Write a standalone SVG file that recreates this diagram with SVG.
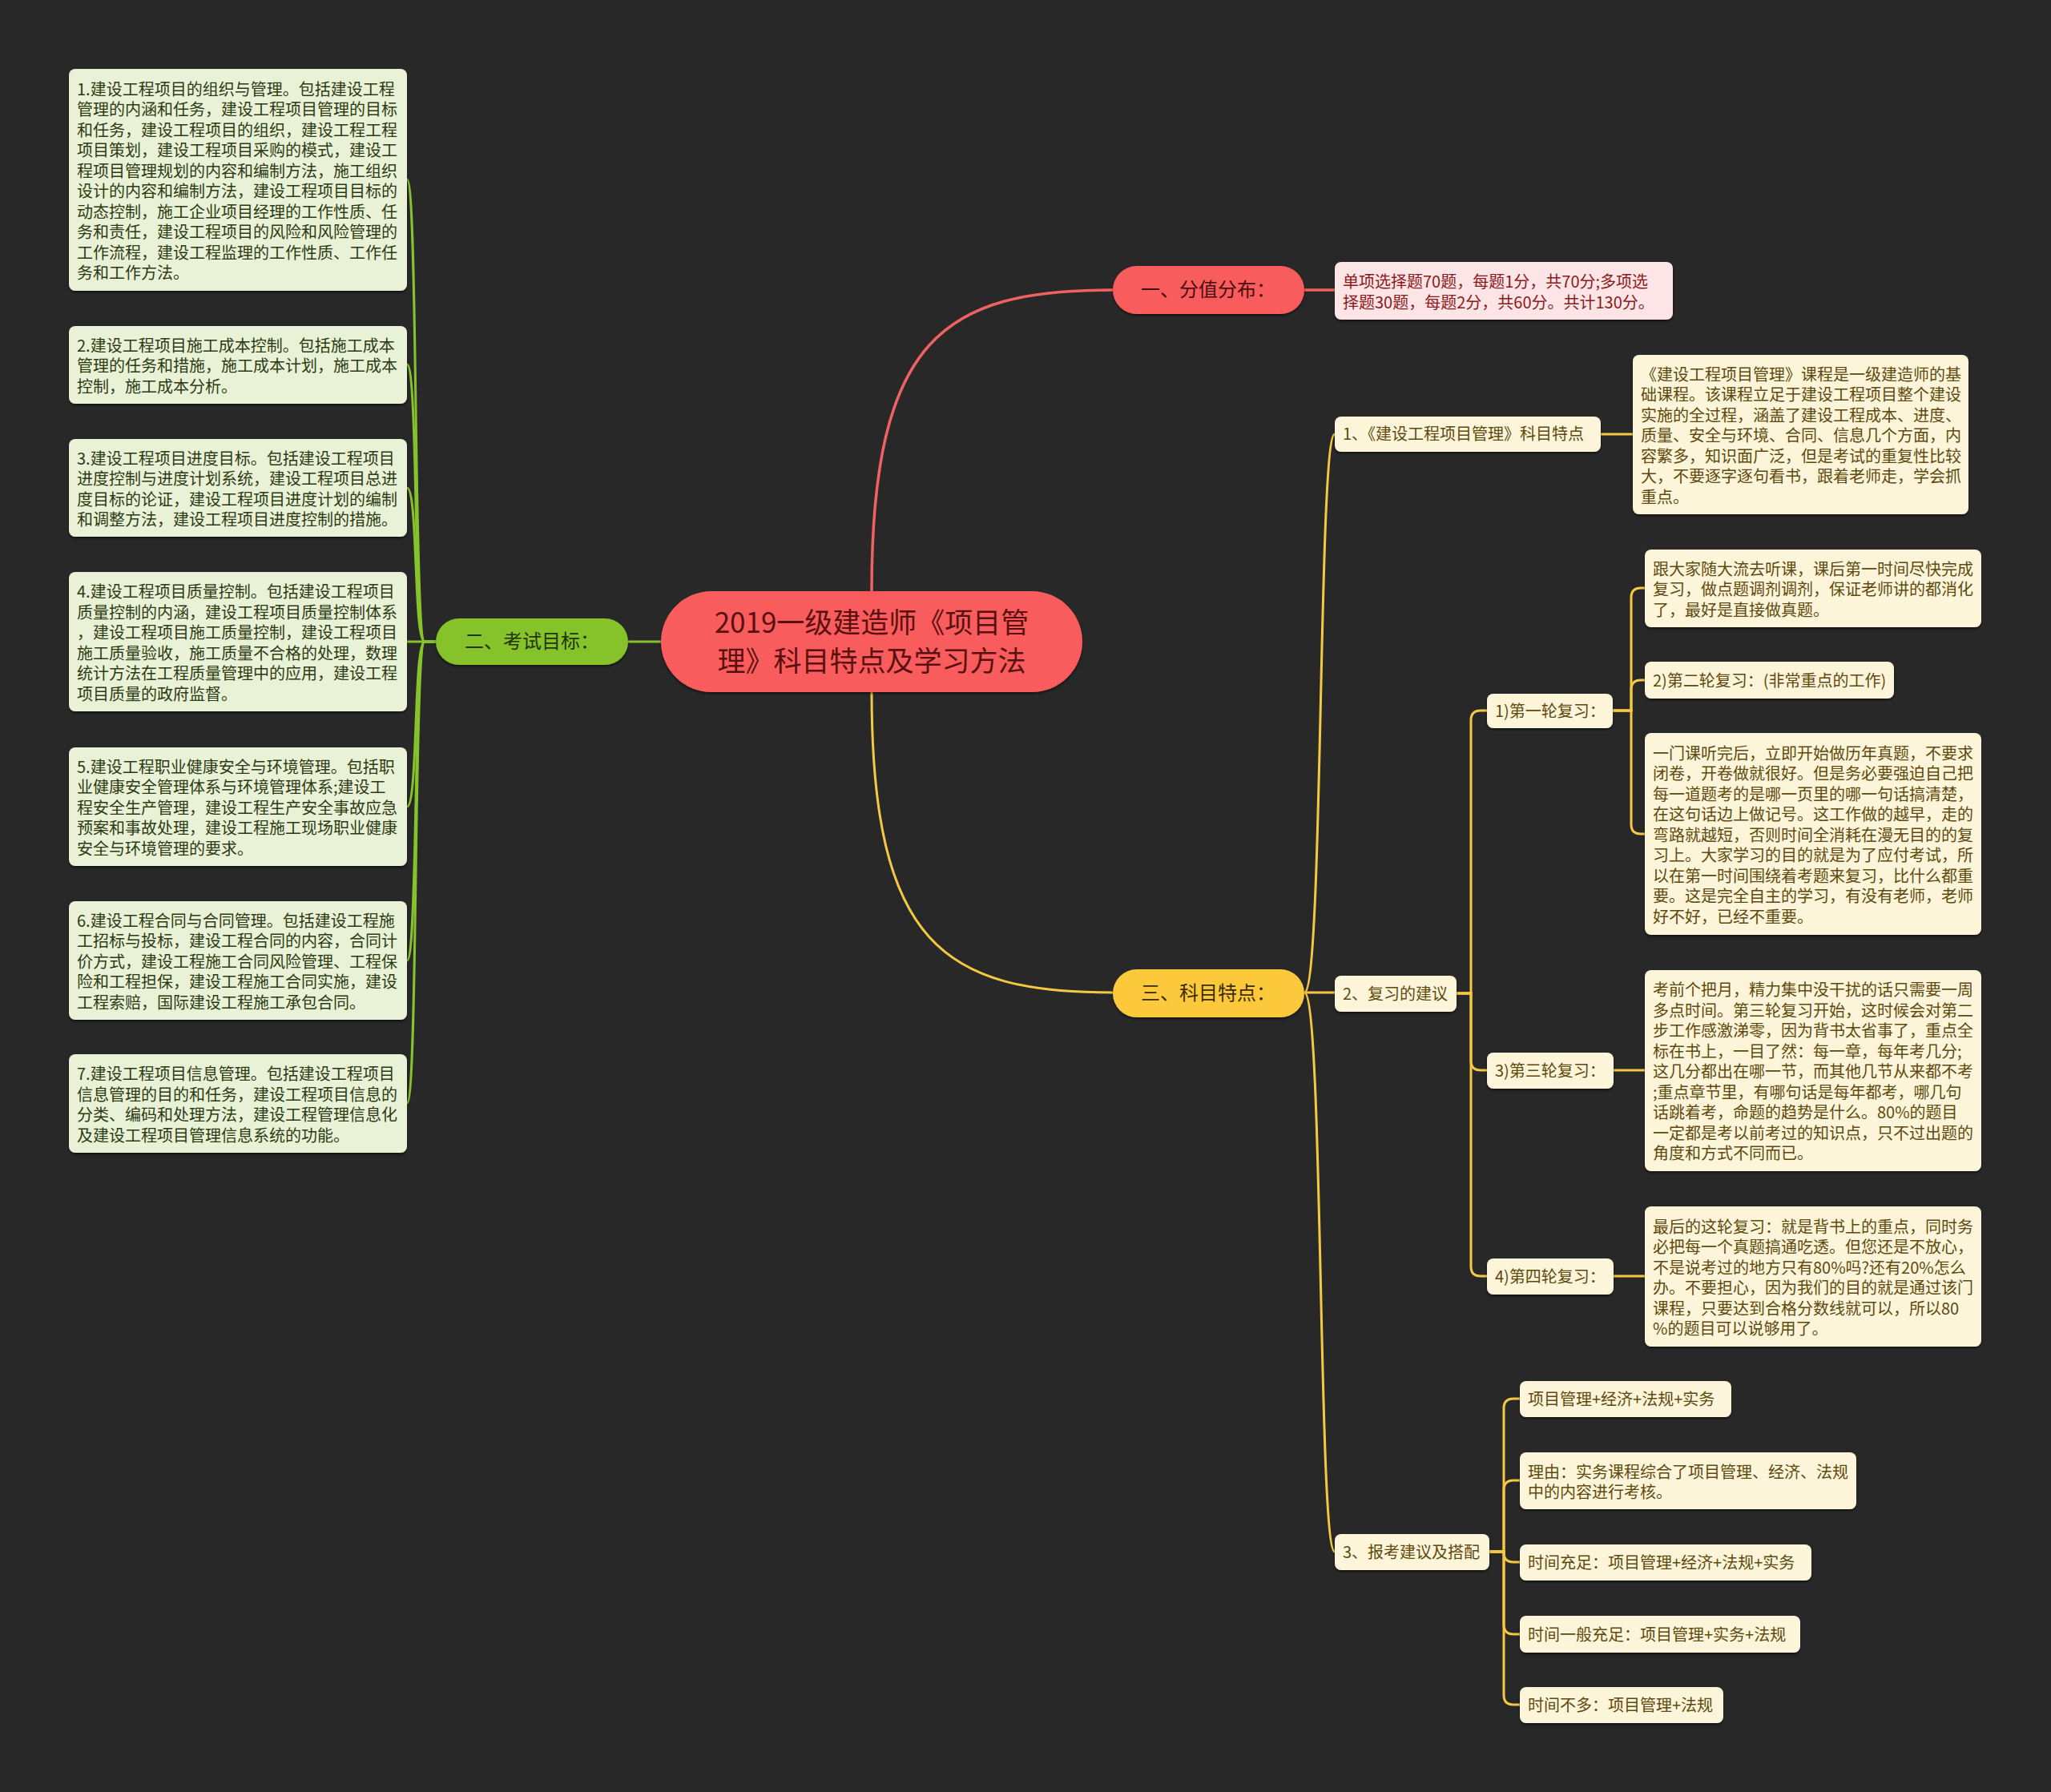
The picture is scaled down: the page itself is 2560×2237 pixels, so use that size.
<svg xmlns="http://www.w3.org/2000/svg" width="2560" height="2237" viewBox="0 0 2560 2237">
<defs>
<filter id="sh" x="-5%" y="-10%" width="110%" height="130%">
<feDropShadow dx="0" dy="2" stdDeviation="1.5" flood-color="#000" flood-opacity="0.55"/>
</filter>
<style>
text{font-family:"Noto Sans CJK SC","Noto Sans",sans-serif;}
.t20{font-size:20px;}
.gbox{fill:#e9f2d7;filter:url(#sh);}
.gtxt{fill:#2d3b12;}
.cbox{fill:#fdf5d9;filter:url(#sh);}
.ctxt{fill:#5e4a0e;}
.pbox{fill:#fde4e6;filter:url(#sh);}
.ptxt{fill:#8a1a1a;}
.red{fill:none;stroke:#f06262;stroke-width:3.5;}
.yel{fill:none;stroke:#f5c842;stroke-width:3;}
.grn{fill:none;stroke:#86c22c;stroke-width:3;}
</style>
</defs>
<rect width="2560" height="2237" fill="#282828"/>

<g id="connectors">
<path class="red" d="M1088,738 C1088,420 1180,362 1389,362"/>
<path class="red" d="M1628,362 H1666"/>
<path class="yel" d="M1088,864 C1088,1180 1180,1239 1389,1239"/>
<path class="grn" d="M825,801 H784"/>
<path class="grn" d="M544,801 L530,801 C516,801 522,224 508,224"/>
<path class="grn" d="M544,801 L530,801 C516,801 522,455 508,455"/>
<path class="grn" d="M544,801 L530,801 C516,801 522,609 508,609"/>
<path class="grn" d="M544,801 L508,801"/>
<path class="grn" d="M544,801 L530,801 C516,801 522,1007 508,1007"/>
<path class="grn" d="M544,801 L530,801 C516,801 522,1199 508,1199"/>
<path class="grn" d="M544,801 L530,801 C516,801 522,1377 508,1377"/>
<path class="yel" d="M1628,1239 C1652,1239 1645,542 1666,542"/>
<path class="yel" d="M1628,1239 H1666"/>
<path class="yel" d="M1628,1239 C1652,1239 1645,1937 1666,1937"/>
<path class="yel" d="M1998,542 H2038"/>
<path class="yel" d="M1818,1240 H1836 V899 Q1836,887 1848,887 H1856"/>
<path class="yel" d="M1818,1240 H1836 V1324 Q1836,1336 1848,1336 H1856"/>
<path class="yel" d="M1818,1240 H1836 V1581 Q1836,1593 1848,1593 H1856"/>
<path class="yel" d="M2013,887 H2036 V746 Q2036,734 2048,734 H2053"/>
<path class="yel" d="M2013,887 H2036 V861 Q2036,849 2048,849 H2053"/>
<path class="yel" d="M2013,887 H2036 V1029 Q2036,1041 2048,1041 H2053"/>
<path class="yel" d="M2014,1336 H2053"/>
<path class="yel" d="M2014,1593 H2053"/>
<path class="yel" d="M1859,1937 H1877 V1758 Q1877,1746 1889,1746 H1897"/>
<path class="yel" d="M1859,1937 H1877 V1860 Q1877,1848 1889,1848 H1897"/>
<path class="yel" d="M1859,1937 H1877 V1938 Q1877,1950 1889,1950 H1897"/>
<path class="yel" d="M1859,1937 H1877 V2028 Q1877,2040 1889,2040 H1897"/>
<path class="yel" d="M1859,1937 H1877 V2116 Q1877,2128 1889,2128 H1897"/>
</g>

<g id="center">
<rect x="825" y="738" width="526" height="126" rx="63" fill="#f85b5b" filter="url(#sh)"/>
<text x="1088" y="790" font-size="35" fill="#5a1010" text-anchor="middle">2019一级建造师《项目管</text>
<text x="1088" y="838" font-size="35" fill="#5a1010" text-anchor="middle">理》科目特点及学习方法</text>
</g>

<g id="b1">
<rect x="1389" y="332" width="239" height="60" rx="30" fill="#f85b5b" filter="url(#sh)"/>
<text x="1508" y="370" font-size="24" fill="#4a0d0d" text-anchor="middle">一、分值分布：</text>
</g>
<g id="b1c">
<rect class="pbox" x="1666" y="327" width="422" height="72" rx="8"/>
<text class="t20 ptxt"><tspan x="1676" y="359">单项选择题70题，每题1分，共70分;多项选</tspan><tspan x="1676" y="384.5">择题30题，每题2分，共60分。共计130分。</tspan></text>
</g>

<g id="b2">
<rect x="544" y="772" width="240" height="58" rx="29" fill="#86c22c" filter="url(#sh)"/>
<text x="664" y="809" font-size="24" fill="#1f350a" text-anchor="middle">二、考试目标：</text>
</g>

<g id="b3">
<rect x="1389" y="1210" width="239" height="60" rx="30" fill="#fbc93b" filter="url(#sh)"/>
<text x="1508" y="1248" font-size="24" fill="#3d2c00" text-anchor="middle">三、科目特点：</text>
</g>

<g id="g1">
<rect class="gbox" x="86" y="86" width="422" height="277" rx="8"/>
<text class="t20 gtxt"><tspan x="96" y="118.5">1.建设工程项目的组织与管理。包括建设工程</tspan><tspan x="96" y="144">管理的内涵和任务，建设工程项目管理的目标</tspan><tspan x="96" y="169.5">和任务，建设工程项目的组织，建设工程工程</tspan><tspan x="96" y="195">项目策划，建设工程项目采购的模式，建设工</tspan><tspan x="96" y="220.5">程项目管理规划的内容和编制方法，施工组织</tspan><tspan x="96" y="246">设计的内容和编制方法，建设工程项目目标的</tspan><tspan x="96" y="271.5">动态控制，施工企业项目经理的工作性质、任</tspan><tspan x="96" y="297">务和责任，建设工程项目的风险和风险管理的</tspan><tspan x="96" y="322.5">工作流程，建设工程监理的工作性质、工作任</tspan><tspan x="96" y="348">务和工作方法。</tspan></text>
</g>
<g id="g2">
<rect class="gbox" x="86" y="407" width="422" height="97" rx="8"/>
<text class="t20 gtxt"><tspan x="96" y="438.7">2.建设工程项目施工成本控制。包括施工成本</tspan><tspan x="96" y="464.2">管理的任务和措施，施工成本计划，施工成本</tspan><tspan x="96" y="489.7">控制，施工成本分析。</tspan></text>
</g>
<g id="g3">
<rect class="gbox" x="86" y="548" width="422" height="122" rx="8"/>
<text class="t20 gtxt"><tspan x="96" y="579.5">3.建设工程项目进度目标。包括建设工程项目</tspan><tspan x="96" y="605">进度控制与进度计划系统，建设工程项目总进</tspan><tspan x="96" y="630.5">度目标的论证，建设工程项目进度计划的编制</tspan><tspan x="96" y="656">和调整方法，建设工程项目进度控制的措施。</tspan></text>
</g>
<g id="g4">
<rect class="gbox" x="86" y="714" width="422" height="174" rx="8"/>
<text class="t20 gtxt"><tspan x="96" y="746">4.建设工程项目质量控制。包括建设工程项目</tspan><tspan x="96" y="771.5">质量控制的内涵，建设工程项目质量控制体系</tspan><tspan x="96" y="797">，建设工程项目施工质量控制，建设工程项目</tspan><tspan x="96" y="822.5">施工质量验收，施工质量不合格的处理，数理</tspan><tspan x="96" y="848">统计方法在工程质量管理中的应用，建设工程</tspan><tspan x="96" y="873.5">项目质量的政府监督。</tspan></text>
</g>
<g id="g5">
<rect class="gbox" x="86" y="933" width="422" height="148" rx="8"/>
<text class="t20 gtxt"><tspan x="96" y="964.7">5.建设工程职业健康安全与环境管理。包括职</tspan><tspan x="96" y="990.2">业健康安全管理体系与环境管理体系;建设工</tspan><tspan x="96" y="1015.7">程安全生产管理，建设工程生产安全事故应急</tspan><tspan x="96" y="1041.2">预案和事故处理，建设工程施工现场职业健康</tspan><tspan x="96" y="1066.7">安全与环境管理的要求。</tspan></text>
</g>
<g id="g6">
<rect class="gbox" x="86" y="1125" width="422" height="148" rx="8"/>
<text class="t20 gtxt"><tspan x="96" y="1156.7">6.建设工程合同与合同管理。包括建设工程施</tspan><tspan x="96" y="1182.2">工招标与投标，建设工程合同的内容，合同计</tspan><tspan x="96" y="1207.7">价方式，建设工程施工合同风险管理、工程保</tspan><tspan x="96" y="1233.2">险和工程担保，建设工程施工合同实施，建设</tspan><tspan x="96" y="1258.7">工程索赔，国际建设工程施工承包合同。</tspan></text>
</g>
<g id="g7">
<rect class="gbox" x="86" y="1316" width="422" height="123" rx="8"/>
<text class="t20 gtxt"><tspan x="96" y="1348">7.建设工程项目信息管理。包括建设工程项目</tspan><tspan x="96" y="1373.5">信息管理的目的和任务，建设工程项目信息的</tspan><tspan x="96" y="1399">分类、编码和处理方法，建设工程管理信息化</tspan><tspan x="96" y="1424.5">及建设工程项目管理信息系统的功能。</tspan></text>
</g>

<g id="y1">
<rect class="cbox" x="1666" y="520" width="332" height="44" rx="8"/>
<text class="t20 ctxt" x="1676" y="549">1、《建设工程项目管理》科目特点</text>
</g>
<g id="y1d">
<rect class="cbox" x="2038" y="443" width="419" height="199" rx="8"/>
<text class="t20 ctxt"><tspan x="2048" y="474.7">《建设工程项目管理》课程是一级建造师的基</tspan><tspan x="2048" y="500.2">础课程。该课程立足于建设工程项目整个建设</tspan><tspan x="2048" y="525.7">实施的全过程，涵盖了建设工程成本、进度、</tspan><tspan x="2048" y="551.2">质量、安全与环境、合同、信息几个方面，内</tspan><tspan x="2048" y="576.7">容繁多，知识面广泛，但是考试的重复性比较</tspan><tspan x="2048" y="602.2">大，不要逐字逐句看书，跟着老师走，学会抓</tspan><tspan x="2048" y="627.7">重点。</tspan></text>
</g>

<g id="y2">
<rect class="cbox" x="1666" y="1218" width="152" height="45" rx="8"/>
<text class="t20 ctxt" x="1676" y="1248">2、复习的建议</text>
</g>
<g id="r1">
<rect class="cbox" x="1856" y="866" width="157" height="43" rx="8"/>
<text class="t20 ctxt" x="1866" y="895">1)第一轮复习：</text>
</g>
<g id="r1a">
<rect class="cbox" x="2053" y="686" width="420" height="97" rx="8"/>
<text class="t20 ctxt"><tspan x="2063" y="717.7">跟大家随大流去听课，课后第一时间尽快完成</tspan><tspan x="2063" y="743.2">复习，做点题调剂调剂，保证老师讲的都消化</tspan><tspan x="2063" y="768.7">了，最好是直接做真题。</tspan></text>
</g>
<g id="r1b">
<rect class="cbox" x="2053" y="826" width="311" height="46" rx="8"/>
<text class="t20 ctxt" x="2063" y="856.5">2)第二轮复习：(非常重点的工作)</text>
</g>
<g id="r1c">
<rect class="cbox" x="2053" y="915" width="420" height="252" rx="8"/>
<text class="t20 ctxt"><tspan x="2063" y="947.7">一门课听完后，立即开始做历年真题，不要求</tspan><tspan x="2063" y="973.2">闭卷，开卷做就很好。但是务必要强迫自己把</tspan><tspan x="2063" y="998.7">每一道题考的是哪一页里的哪一句话搞清楚，</tspan><tspan x="2063" y="1024.2">在这句话边上做记号。这工作做的越早，走的</tspan><tspan x="2063" y="1049.7">弯路就越短，否则时间全消耗在漫无目的的复</tspan><tspan x="2063" y="1075.2">习上。大家学习的目的就是为了应付考试，所</tspan><tspan x="2063" y="1100.7">以在第一时间围绕着考题来复习，比什么都重</tspan><tspan x="2063" y="1126.2">要。这是完全自主的学习，有没有老师，老师</tspan><tspan x="2063" y="1151.7">好不好，已经不重要。</tspan></text>
</g>
<g id="r3">
<rect class="cbox" x="1856" y="1314" width="158" height="45" rx="8"/>
<text class="t20 ctxt" x="1866" y="1344">3)第三轮复习：</text>
</g>
<g id="r3d">
<rect class="cbox" x="2053" y="1211" width="420" height="251" rx="8"/>
<text class="t20 ctxt"><tspan x="2063" y="1243.2">考前个把月，精力集中没干扰的话只需要一周</tspan><tspan x="2063" y="1268.7">多点时间。第三轮复习开始，这时候会对第二</tspan><tspan x="2063" y="1294.2">步工作感激涕零，因为背书太省事了，重点全</tspan><tspan x="2063" y="1319.7">标在书上，一目了然：每一章，每年考几分;</tspan><tspan x="2063" y="1345.2">这几分都出在哪一节，而其他几节从来都不考</tspan><tspan x="2063" y="1370.7">;重点章节里，有哪句话是每年都考，哪几句</tspan><tspan x="2063" y="1396.2">话跳着考，命题的趋势是什么。80%的题目</tspan><tspan x="2063" y="1421.7">一定都是考以前考过的知识点，只不过出题的</tspan><tspan x="2063" y="1447.2">角度和方式不同而已。</tspan></text>
</g>
<g id="r4">
<rect class="cbox" x="1856" y="1571" width="158" height="45" rx="8"/>
<text class="t20 ctxt" x="1866" y="1601">4)第四轮复习：</text>
</g>
<g id="r4d">
<rect class="cbox" x="2053" y="1506" width="420" height="175" rx="8"/>
<text class="t20 ctxt"><tspan x="2063" y="1538.5">最后的这轮复习：就是背书上的重点，同时务</tspan><tspan x="2063" y="1564">必把每一个真题搞通吃透。但您还是不放心，</tspan><tspan x="2063" y="1589.5">不是说考过的地方只有80%吗?还有20%怎么</tspan><tspan x="2063" y="1615">办。不要担心，因为我们的目的就是通过该门</tspan><tspan x="2063" y="1640.5">课程，只要达到合格分数线就可以，所以80</tspan><tspan x="2063" y="1666">%的题目可以说够用了。</tspan></text>
</g>

<g id="y3">
<rect class="cbox" x="1666" y="1915" width="193" height="45" rx="8"/>
<text class="t20 ctxt" x="1676" y="1945">3、报考建议及搭配</text>
</g>
<g id="c1">
<rect class="cbox" x="1897" y="1724" width="264" height="45" rx="8"/>
<text class="t20 ctxt" x="1907" y="1754">项目管理+经济+法规+实务</text>
</g>
<g id="c2">
<rect class="cbox" x="1897" y="1813" width="420" height="71" rx="8"/>
<text class="t20 ctxt"><tspan x="1907" y="1844.5">理由：实务课程综合了项目管理、经济、法规</tspan><tspan x="1907" y="1870">中的内容进行考核。</tspan></text>
</g>
<g id="c3">
<rect class="cbox" x="1897" y="1928" width="364" height="45" rx="8"/>
<text class="t20 ctxt" x="1907" y="1958">时间充足：项目管理+经济+法规+实务</text>
</g>
<g id="c4">
<rect class="cbox" x="1897" y="2017" width="350" height="46" rx="8"/>
<text class="t20 ctxt" x="1907" y="2048">时间一般充足：项目管理+实务+法规</text>
</g>
<g id="c5">
<rect class="cbox" x="1897" y="2106" width="254" height="45" rx="8"/>
<text class="t20 ctxt" x="1907" y="2136">时间不多：项目管理+法规</text>
</g>
</svg>
